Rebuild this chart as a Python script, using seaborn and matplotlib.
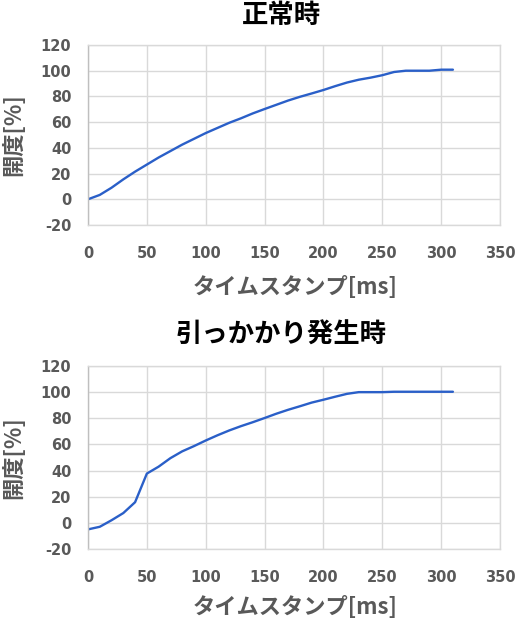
import matplotlib
matplotlib.use("Agg")
import matplotlib.pyplot as plt
import seaborn as sns
import pandas as pd

# ---- data ----
time_ms = [0, 10, 20, 30, 40, 50, 60, 70, 80, 90, 100, 110, 120, 130, 140, 150,
           160, 170, 180, 190, 200, 210, 220, 230, 240, 250, 260, 270, 280, 290,
           300, 310]
normal = [0, 3.4, 9, 15.5, 21.5, 27, 32.5, 37.5, 42.5, 47, 51.5, 55.5, 59.5, 63,
          66.8, 70.2, 73.5, 76.8, 79.7, 82.3, 85, 88, 90.8, 93, 94.6, 96.5, 99,
          100, 100, 100, 100.8, 100.8]
stuck = [-5, -3, 2, 7.5, 15.8, 37.7, 43, 49.5, 54.7, 58.7, 63, 67, 70.7, 74,
         77, 80.2, 83.5, 86.5, 89.2, 92, 94.2, 96.5, 98.7, 100, 100, 100, 100.3,
         100.3, 100.3, 100.3, 100.3, 100.3]
titles = ["正常時", "引っかかり発生時"]
xlabel = "タイムスタンプ[ms]"
ylabel = "開度[%]"
xticks = [0, 50, 100, 150, 200, 250, 300, 350]
yticks = [-20, 0, 20, 40, 60, 80, 100, 120]

sns.set_theme(style="white")
plt.rcParams['font.family'] = ['Noto Sans CJK JP', 'DejaVu Sans']
plt.rcParams['axes.unicode_minus'] = False

W, H = 518, 626
fig = plt.figure(figsize=(W / 100, H / 100), dpi=100)

line_color = "#2A5FC8"
grid_color = "#D9D9D9"
tick_color = "#595959"

series = [normal, stuck]
# axes boxes in pixel coords (left, top, right, bottom)
boxes = [(88, 45, 500, 225), (88, 366, 500, 549)]
title_y = [15, 335]
xlabel_y = [288, 607]

for i in range(2):
    l, t, r, b = boxes[i]
    ax = fig.add_axes([l / W, 1 - b / H, (r - l) / W, (b - t) / H])
    df = pd.DataFrame({"t": time_ms, "v": series[i]})
    sns.lineplot(data=df, x="t", y="v", ax=ax, color=line_color, linewidth=1.7)
    ax.set_xlim(0, 350)
    ax.set_ylim(-20, 120)
    ax.set_xticks(xticks)
    ax.set_yticks(yticks)
    ax.grid(True, color=grid_color, linewidth=1.0)
    ax.set_axisbelow(True)
    for s in ax.spines.values():
        s.set_color(grid_color)
        s.set_linewidth(1.0)
    ax.spines['left'].set_color("#BFBFBF")
    ax.tick_params(axis='x', length=0, labelsize=10.5, labelcolor=tick_color, pad=15)
    ax.tick_params(axis='y', length=0, labelsize=10.5, labelcolor=tick_color, pad=12)
    for lab in ax.get_xticklabels() + ax.get_yticklabels():
        lab.set_fontweight('bold')
        lab.set_family('DejaVu Sans')
    ax.set_xlabel("")
    ax.set_ylabel("")
    fig.text(14 / W, 1 - ((t + b) / 2) / H, ylabel, rotation=90, ha='center', va='center',
             fontsize=16, fontweight='bold', color=tick_color)
    fig.text(295 / W, 1 - xlabel_y[i] / H, xlabel, ha='center', va='center',
             fontsize=16, fontweight='bold', color=tick_color)
    fig.text(281 / W, 1 - title_y[i] / H, titles[i], ha='center', va='center',
             fontsize=19, fontweight='bold', color='black')

fig.savefig("out.png", dpi=100, facecolor='white')
